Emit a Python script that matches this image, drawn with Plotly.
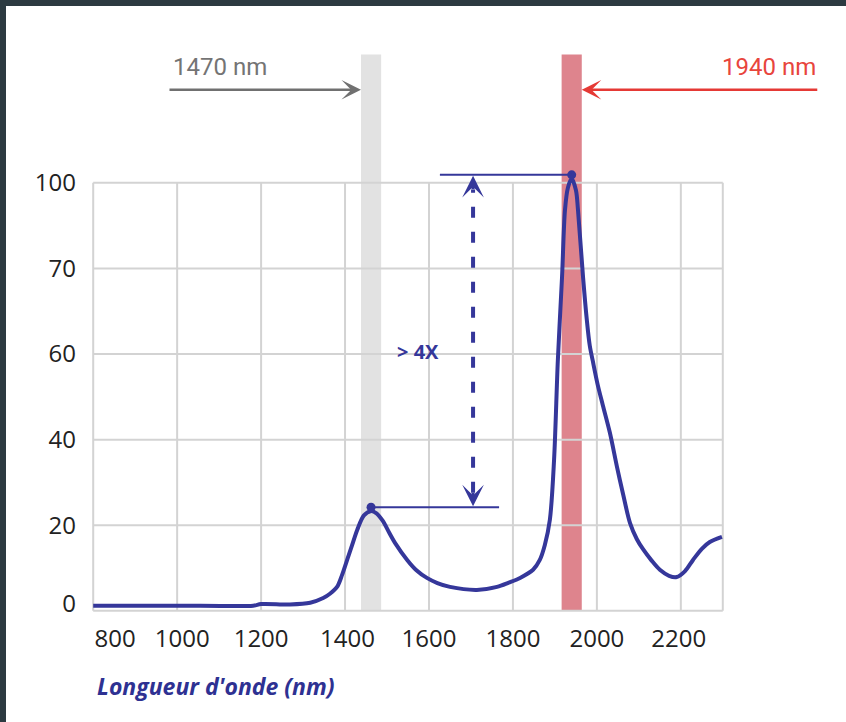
import numpy as np
import plotly.graph_objects as go

# ---------------- data ----------------
WAVELENGTH_NM = [800, 1055, 1181, 1200, 1269, 1317, 1348, 1364, 1381, 1393, 1405, 1417, 1429,
                 1445, 1461, 1475, 1490, 1505, 1519, 1548, 1570, 1595, 1620, 1650, 1714, 1762,
                 1790, 1817, 1848, 1864, 1876, 1888, 1898, 1907, 1917, 1924, 1931, 1940, 1950,
                 1955, 1967, 1976, 1983, 1990, 2002, 2014, 2031, 2048, 2063, 2079, 2095, 2110,
                 2130, 2150, 2172, 2190, 2210, 2229, 2250, 2269, 2298]
ABSORPTION = [1.2, 1.2, 1.2, 1.6, 1.5, 1.9, 3.0, 4.0, 5.6, 8.4, 11.9, 15.4, 18.9,
              22.3, 23.3, 22.8, 21.0, 18.3, 15.9, 11.9, 9.5, 7.7, 6.5, 5.6, 4.9, 5.6,
              6.6, 7.7, 9.6, 11.9, 15.4, 21.3, 35.3, 58.6, 69.0, 90.5, 98.3, 101.4, 97.5,
              90.5, 69.0, 64.0, 61.0, 58.5, 52.8, 48.1, 41.6, 33.6, 27.0, 20.5, 16.8, 14.4,
              11.8, 9.6, 8.2, 7.9, 9.3, 11.9, 14.5, 16.1, 17.3]

Y_TICK_VALUES = [0, 20, 40, 60, 70, 100]
Y_TICK_LABELS = ["0", "20", "40", "60", "70", "100"]
X_TICK_VALUES = [800, 1000, 1200, 1400, 1600, 1800, 2000, 2200]
X_TICK_LABELS = ["800", "1000", "1200", "1400", "1600", "1800", "2000", "2200"]
X_MAX = 2300

LASER_CENTER_NM = [1462, 1940]
LASER_LABELS = ["1470 nm", "1940 nm"]
BAND_HALF_WIDTH_NM = 24

PEAK_WL = [1462, 1940]
PEAK_ABS = [24.2, 102.8]
RATIO_LABEL = "> 4X"
X_TITLE = "Longueur d'onde (nm)"

# ---------------- styles ----------------
NAVY = "#35379a"
GRID = "#d3d3d3"
GRAY_BAND = "#e2e2e2"
RED_BAND = "#de848d"
GRAY_TXT = "#747474"
RED_TXT = "#e8453c"
TICK_FONT = dict(family="Open Sans", size=24, color="#222222")

idx = np.arange(len(Y_TICK_VALUES), dtype=float)


def to_pos(v):
    v = np.atleast_1d(np.asarray(v, dtype=float))
    p = np.interp(v, Y_TICK_VALUES, idx)
    hi = v > Y_TICK_VALUES[-1]
    step = Y_TICK_VALUES[-1] - Y_TICK_VALUES[-2]
    p[hi] = idx[-1] + (v[hi] - Y_TICK_VALUES[-1]) / step
    return p


curve_pos = to_pos(ABSORPTION)
peak_pos = to_pos(PEAK_ABS)
y_top = idx[-1]

fig = go.Figure()

shapes = []
# laser bands
band_colors = [GRAY_BAND, RED_BAND]
for c, col in zip(LASER_CENTER_NM, band_colors):
    shapes.append(dict(type="rect", xref="x", yref="y", x0=c - BAND_HALF_WIDTH_NM,
                       x1=c + BAND_HALF_WIDTH_NM, y0=0, y1=6.5,
                       fillcolor=col, line=dict(width=0), layer="below"))
# grid
for xv in X_TICK_VALUES + [X_MAX]:
    shapes.append(dict(type="line", xref="x", yref="y", x0=xv, x1=xv, y0=0, y1=y_top,
                       line=dict(color=GRID, width=2), layer="below"))
for yp in idx:
    shapes.append(dict(type="line", xref="x", yref="y", x0=X_TICK_VALUES[0], x1=X_MAX,
                       y0=yp, y1=yp, line=dict(color=GRID, width=2), layer="below"))

arrow_x = 1705
# reference horizontal lines at peaks
shapes.append(dict(type="line", xref="x", yref="y", x0=PEAK_WL[0], x1=1767,
                   y0=peak_pos[0], y1=peak_pos[0], line=dict(color=NAVY, width=2)))
shapes.append(dict(type="line", xref="x", yref="y", x0=1626, x1=PEAK_WL[1],
                   y0=peak_pos[1], y1=peak_pos[1], line=dict(color=NAVY, width=2)))
# dashed vertical arrow shaft
shapes.append(dict(type="line", xref="x", yref="y", x0=arrow_x, x1=arrow_x,
                   y0=peak_pos[0] + 0.17, y1=peak_pos[1] - 0.17,
                   line=dict(color=NAVY, width=4, dash="11px,14px")))

# dark frame strips
W, H, L, R, T, B = 846, 722, 89, 119, 40, 106
pw, ph = W - L - R, H - T - B


def px(xp):
    return (xp - L) / pw


def py(yp):
    return (H - B - yp) / ph


FRAME = "#2c3a41"
shapes.append(dict(type="rect", xref="paper", yref="paper", x0=px(0), x1=px(6),
                    y0=py(H), y1=py(0), fillcolor=FRAME, line=dict(width=0)))
shapes.append(dict(type="rect", xref="paper", yref="paper", x0=px(0), x1=px(W),
                    y0=py(6), y1=py(0), fillcolor=FRAME, line=dict(width=0)))

fig.add_trace(go.Scatter(x=WAVELENGTH_NM, y=curve_pos, mode="lines",
                         line=dict(color=NAVY, width=4, shape="spline", smoothing=0.9),
                         hoverinfo="skip", showlegend=False))
fig.add_trace(go.Scatter(x=PEAK_WL, y=peak_pos, mode="markers",
                         marker=dict(color=NAVY, size=9), cliponaxis=False,
                         hoverinfo="skip", showlegend=False))

annotations = []
# laser labels and arrows
annotations.append(dict(x=px(171), y=py(67), xref="paper", yref="paper", text=LASER_LABELS[0],
                        showarrow=False, xanchor="left", yanchor="middle",
                        font=dict(family="Roboto", size=24, color=GRAY_TXT)))
annotations.append(dict(x=px(818), y=py(67), xref="paper", yref="paper", text=LASER_LABELS[1],
                        showarrow=False, xanchor="right", yanchor="middle",
                        font=dict(family="Roboto", size=24, color=RED_TXT)))
arrow_y = (611 - 90) / 85.6
annotations.append(dict(x=LASER_CENTER_NM[0] - BAND_HALF_WIDTH_NM, y=arrow_y, xref="x", yref="y",
                        ax=-193, ay=0, text="", showarrow=True, arrowhead=3, arrowsize=1.3,
                        arrowwidth=2.5, arrowcolor="#707070", standoff=0))
annotations.append(dict(x=LASER_CENTER_NM[1] + BAND_HALF_WIDTH_NM, y=arrow_y, xref="x", yref="y",
                        ax=237, ay=0, text="", showarrow=True, arrowhead=3, arrowsize=1.3,
                        arrowwidth=2.5, arrowcolor="#e53935", standoff=0))
# ratio arrowheads
annotations.append(dict(x=arrow_x, y=peak_pos[1], xref="x", yref="y", ax=0, ay=16, text="",
                        showarrow=True, arrowhead=3, arrowsize=1.2, arrowwidth=3,
                        arrowcolor=NAVY, standoff=1))
annotations.append(dict(x=arrow_x, y=peak_pos[0], xref="x", yref="y", ax=0, ay=-16, text="",
                        showarrow=True, arrowhead=3, arrowsize=1.2, arrowwidth=3,
                        arrowcolor=NAVY, standoff=1))
annotations.append(dict(x=1574, y=3.03, xref="x", yref="y", text=RATIO_LABEL, showarrow=False,
                        font=dict(family="Open Sans", size=20, color=NAVY, weight="bold")))
annotations.append(dict(x=px(95), y=py(686), xref="paper", yref="paper", text=X_TITLE,
                        showarrow=False, xanchor="left", yanchor="middle",
                        font=dict(family="Open Sans", size=23, color="#2e3192",
                                  weight="bold", style="italic")))

x_label_pos = [852, 1012, 1200, 1406, 1600, 1800, 2000, 2195]
y_label_pos = [0.09, 1, 2, 3, 4, 5]

fig.update_layout(
    width=W, height=H,
    margin=dict(l=L, r=R, t=T, b=B),
    paper_bgcolor="white", plot_bgcolor="white",
    shapes=shapes, annotations=annotations,
    xaxis=dict(range=[790, 2310], showgrid=False, zeroline=False, showline=False,
               tickvals=x_label_pos, ticktext=X_TICK_LABELS, ticks="",
               tickfont=TICK_FONT, ticklabelstandoff=6, fixedrange=True),
    yaxis=dict(range=[-0.06, -0.06 + ph / 85.6], showgrid=False, zeroline=False,
               showline=False, tickvals=y_label_pos, ticktext=Y_TICK_LABELS, ticks="",
               tickfont=TICK_FONT, ticklabelstandoff=12, fixedrange=True),
    showlegend=False,
)

fig.write_html("out.html", config={"displayModeBar": False},
               post_script="document.body.style.margin='0px';document.body.style.overflow='hidden';")
